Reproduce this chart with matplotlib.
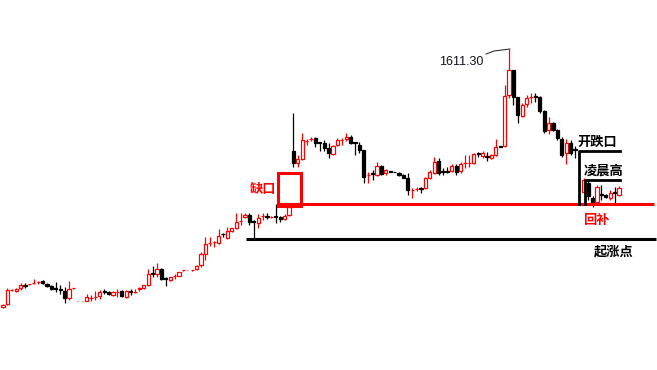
import numpy as np
import matplotlib.pyplot as plt
from matplotlib.patches import Rectangle

plt.rcParams['font.family'] = ['Noto Sans CJK SC', 'DejaVu Sans']

nan = np.nan

# hourly OHLC (index = bar position)
opens = [1482.3, 1483.8, 1490.6, 1490.3, 1491.8, 1493.3, 1493.6, 1494.1, 1494.6, 1495.3,
         1493.8, 1492.8, 1491.6, 1491.1, 1490.3, 1486.8, 1491.6, 1485.3, 1485.3, 1485.3,
         1486.6, 1487.1, 1487.8, 1490.1, 1489.8, 1488.3, 1489.6, 1490.3, 1487.3, 1490.1,
         1489.6, 1491.3, 1491.8, 1493.3, 1499.1, 1498.8, 1501.3, 1496.6, 1495.8, 1497.6,
         1497.8, 1500.6, 1500.8, 1500.6, 1501.3, 1503.3, 1508.8, 1514.1, 1514.6, 1514.3,
         1518.8, 1516.8, 1520.3, 1521.8, 1525.1, 1527.3, 1528.3, 1525.1, 1524.3, 1527.6,
         1527.6, 1527.1, 1527.6, 1527.3, 1526.3, 1528.3, 1560.3, 1554.3, 1556.3, 1565.1,
         1566.1, 1566.8, 1564.6, 1564.3, 1561.8, 1558.8, 1563.3, 1565.6, 1566.3, 1567.3,
         1564.6, 1563.3, 1560.8, 1548.1, 1549.1, 1548.3, 1552.8, 1549.3, 1550.1, 1549.8,
         1549.3, 1548.3, 1546.8, 1540.6, 1541.1, 1541.6, 1541.8, 1546.8, 1549.3, 1555.3,
         1550.1, 1550.1, 1550.3, 1552.8, 1550.3, 1554.1, 1554.1, 1554.3, 1559.1, 1557.8,
         1557.6, 1556.8, 1558.3, 1562.6, 1562.8, 1588.3, 1600.8, 1587.3, 1577.8, 1583.8,
         1587.1, 1587.6, 1587.3, 1580.3, 1570.8, 1574.3, 1570.8, 1566.3, 1559.3, 1564.3,
         1561.1, nan, 1539.8, 1544.3, 1536.8, 1534.8, 1538.8, 1538.3, 1536.8, 1539.6, 1538.3]

highs = [1483.8, 1491.8, 1491.3, 1491.8, 1494.3, 1494.3, 1493.8, 1496.3, 1495.3, 1495.8,
         1494.3, 1493.3, 1494.8, 1493.3, 1492.3, 1495.3, 1491.8, 1485.3, 1485.3, 1488.8,
         1488.3, 1490.3, 1490.8, 1491.3, 1490.3, 1490.3, 1491.3, 1490.8, 1490.8, 1491.3,
         1491.3, 1492.3, 1493.3, 1501.3, 1502.8, 1504.3, 1501.8, 1497.3, 1497.3, 1498.8,
         1499.8, 1500.8, 1500.8, 1500.8, 1503.3, 1509.8, 1517.3, 1517.3, 1515.3, 1521.3,
         1519.3, 1522.3, 1521.8, 1529.3, 1529.3, 1529.3, 1529.3, 1525.8, 1528.8, 1529.3,
         1529.3, 1527.8, 1533.8, 1527.8, 1528.8, 1533.8, 1579.3, 1558.3, 1569.3, 1566.3,
         1567.3, 1567.3, 1564.8, 1565.8, 1564.3, 1563.3, 1566.8, 1566.8, 1569.3, 1568.3,
         1564.8, 1564.8, 1560.8, 1549.8, 1550.8, 1554.8, 1553.3, 1551.3, 1550.3, 1549.8,
         1549.8, 1548.8, 1549.3, 1541.8, 1542.3, 1542.3, 1547.3, 1550.8, 1557.3, 1556.8,
         1551.8, 1552.3, 1553.8, 1553.8, 1554.8, 1558.3, 1558.3, 1559.3, 1559.8, 1560.3,
         1559.8, 1558.8, 1566.3, 1562.8, 1593.3, 1611.3, 1600.8, 1587.3, 1584.3, 1588.3,
         1589.3, 1589.3, 1587.8, 1580.8, 1577.3, 1574.8, 1571.3, 1567.3, 1566.3, 1565.8,
         1562.8, nan, 1546.8, 1545.8, 1537.8, 1543.3, 1543.3, 1538.8, 1540.8, 1542.3, 1542.8]

lows = [1481.8, 1483.3, 1490.3, 1489.8, 1490.8, 1491.8, 1493.3, 1493.8, 1493.8, 1493.8,
        1492.3, 1490.8, 1489.8, 1488.8, 1484.3, 1485.8, 1491.3, 1485.3, 1485.3, 1485.1,
        1485.3, 1485.8, 1486.3, 1488.8, 1488.3, 1487.8, 1487.3, 1487.3, 1486.8, 1488.3,
        1489.3, 1490.3, 1491.3, 1492.8, 1497.3, 1497.3, 1495.8, 1492.8, 1495.3, 1496.3,
        1497.6, 1500.3, 1500.8, 1500.3, 1500.8, 1502.3, 1505.8, 1512.8, 1512.3, 1513.8,
        1517.3, 1516.3, 1519.8, 1521.3, 1523.3, 1526.8, 1523.3, 1516.3, 1521.8, 1525.8,
        1526.3, 1526.8, 1524.3, 1524.8, 1525.8, 1527.8, 1552.3, 1552.3, 1555.8, 1563.3,
        1565.3, 1562.3, 1560.3, 1560.3, 1556.8, 1558.3, 1562.8, 1563.3, 1565.3, 1563.8,
        1558.3, 1559.3, 1544.3, 1544.3, 1545.8, 1547.8, 1548.3, 1548.3, 1549.8, 1549.6,
        1547.8, 1546.8, 1538.3, 1536.8, 1540.3, 1539.3, 1541.3, 1546.3, 1548.8, 1548.3,
        1548.3, 1549.3, 1549.8, 1548.3, 1549.3, 1551.8, 1552.3, 1553.8, 1557.3, 1556.8,
        1555.3, 1556.3, 1557.8, 1562.1, 1562.3, 1586.8, 1583.3, 1574.3, 1577.3, 1582.3,
        1584.3, 1584.8, 1579.3, 1569.3, 1568.8, 1570.3, 1565.8, 1557.3, 1553.8, 1558.3,
        1556.8, nan, 1539.3, 1535.8, 1532.3, 1533.8, 1535.8, 1536.8, 1535.8, 1534.3, 1537.8]

closes = [1483.3, 1490.8, 1490.8, 1491.3, 1493.3, 1492.8, 1493.8, 1494.3, 1494.8, 1494.3,
          1492.8, 1491.3, 1491.3, 1490.8, 1486.8, 1491.3, 1491.8, 1485.3, 1485.3, 1487.3,
          1486.8, 1487.3, 1489.8, 1489.8, 1488.8, 1489.8, 1489.8, 1487.8, 1490.3, 1489.8,
          1489.8, 1491.8, 1493.3, 1498.8, 1498.8, 1501.3, 1496.3, 1496.3, 1497.3, 1497.8,
          1499.8, 1500.8, 1500.8, 1500.8, 1502.8, 1508.8, 1513.8, 1514.3, 1514.8, 1517.8,
          1518.6, 1520.3, 1521.8, 1524.8, 1525.3, 1528.3, 1524.8, 1524.8, 1526.8, 1527.8,
          1527.3, 1527.3, 1527.3, 1526.3, 1527.8, 1532.3, 1554.3, 1556.3, 1565.8, 1565.3,
          1566.3, 1564.3, 1564.3, 1561.8, 1559.3, 1562.8, 1565.8, 1565.8, 1567.3, 1564.3,
          1564.3, 1560.8, 1547.3, 1548.3, 1548.8, 1552.8, 1548.8, 1550.8, 1549.8, 1549.6,
          1548.1, 1546.8, 1540.8, 1540.8, 1541.3, 1541.3, 1546.8, 1549.8, 1554.8, 1549.3,
          1549.8, 1549.8, 1552.8, 1549.8, 1553.8, 1554.3, 1554.3, 1558.8, 1558.8, 1559.3,
          1557.3, 1558.3, 1562.3, 1562.3, 1587.8, 1600.8, 1587.3, 1578.3, 1583.3, 1586.8,
          1587.3, 1587.3, 1580.3, 1570.3, 1574.3, 1570.8, 1566.8, 1558.3, 1564.3, 1559.3,
          1560.8, nan, 1545.8, 1537.8, 1534.8, 1542.3, 1538.3, 1537.3, 1539.3, 1539.3, 1541.8]

peak_label = "1611.30"
gap_level = 1533.8      # red line (gap fill)
start_level = 1516.3    # black line (rally start)
drop_level = 1560.3     # 开跌口 top
night_high = 1545.8     # 凌晨高

o = np.array(opens)
h = np.array(highs)
l = np.array(lows)
c = np.array(closes)

fig = plt.figure(figsize=(6.57, 3.70), dpi=100)
ax = fig.add_axes([0, 0, 1, 1])
ax.set_xlim(-0.68, 148.64)
ax.set_ylim(1450.8, 1635.8)
ax.axis('off')

w = 0.75
for i in range(len(o)):
    if np.isnan(o[i]):
        continue
    if h[i] == l[i]:
        # flat bars show as grey dashes
        ax.hlines(o[i], i - w / 2, i + w / 2, color='#c0c0c0', lw=1)
        continue
    up = c[i] >= o[i]
    col = '#ff0000' if up else 'black'
    ax.vlines(i, l[i], h[i], color=col, lw=0.9, zorder=2)
    ax.bar(i, abs(c[i] - o[i]), w, bottom=min(o[i], c[i]),
           facecolor='white' if up else 'black', edgecolor=col, lw=0.9, zorder=3)

# support / resistance lines
ax.hlines(gap_level, 62.5, 147.95, color='#ff0000', lw=2.2, zorder=4)
ax.hlines(start_level, 55.2, 148.4, color='black', lw=2.2, zorder=4)
ax.add_patch(Rectangle((62.5, 1532.8), 5.2, 16.5, fill=False,
                       edgecolor='#ff0000', lw=2.2, zorder=4))

# brackets on the right
ax.plot([130.9, 130.9, 140.2], [gap_level, drop_level, drop_level], color='black', lw=2.0, zorder=4)
ax.plot([132.3, 132.3, 140.2], [gap_level, night_high, night_high], color='black', lw=2.0, zorder=4)

# peak label
ax.plot([109.8, 111.6, 115.2], [1608.8, 1610.3, 1611.3], color='#333333', lw=0.8)
ax.text(109.3, 1604.8, peak_label, ha='right', va='center', fontsize=9,
        family='Liberation Sans', color='#111122')

bold = dict(fontsize=9.5, fontweight='bold', va='center')
ax.text(62.0, 1541.3, '缺口', ha='right', color='#ff0000', **bold)
ax.text(130.5, 1565.0, '开跌口', ha='left', color='black', **bold)
ax.text(132.0, 1550.3, '凌晨高', ha='left', color='black', **bold)
ax.text(131.8, 1525.8, '回补', ha='left', color='#ff0000', **bold)
ax.text(134.3, 1510.3, '起涨点', ha='left', color='black', **bold)

fig.savefig('out.png', dpi=100)
